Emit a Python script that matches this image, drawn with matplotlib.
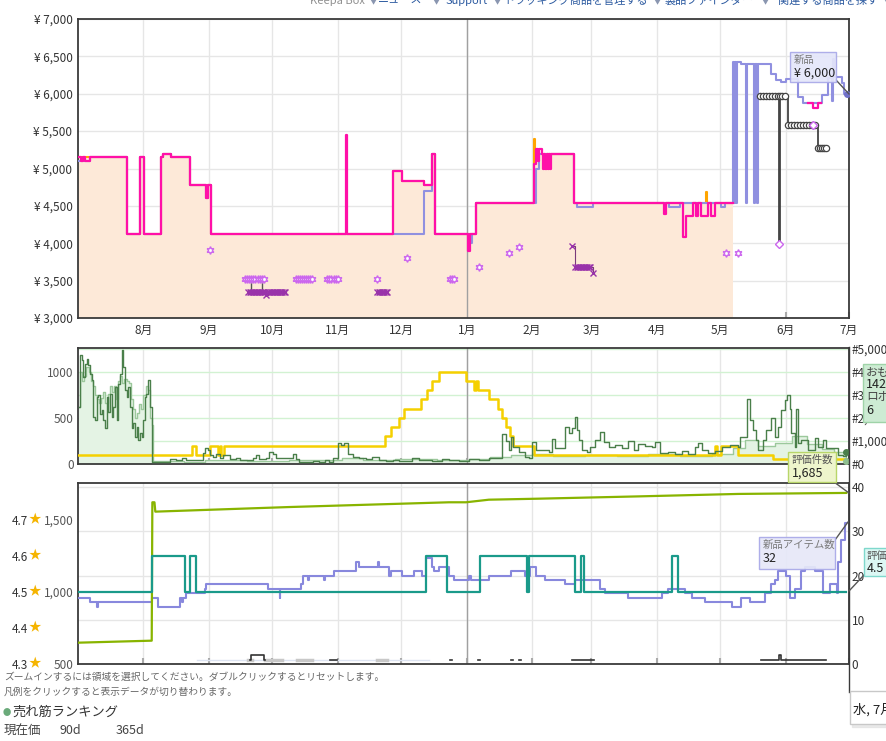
import numpy as np
import matplotlib.pyplot as plt
from matplotlib.patches import Rectangle
from matplotlib.lines import Line2D
from matplotlib.transforms import blended_transform_factory

plt.rcParams['font.family'] = ['Noto Sans CJK JP', 'DejaVu Sans']

nan = np.nan
W, H = 887, 741

# x axis: days since 1 July
month_days = [31, 62, 92, 123, 153, 184, 215, 243, 274, 304, 335, 365]
month_labels = ['8月', '9月', '10月', '11月', '12月', '1月', '2月', '3月', '4月', '5月', '6月', '7月']
new_year = 184

# ---------------- price panel ----------------
price_ticks = [3000, 3500, 4000, 4500, 5000, 5500, 6000, 6500, 7000]

amazon_days = [0, 23.0, 29.3, 31.2, 39.5, 40.3, 44.2, 53.2, 63.1, 148.9, 153.3, 163.8, 167.5, 169.0,
               188.5, 215.8, 216.5, 234.7, 297.2, 297.8, 310.2]
amazon_vals = [5150, 4130, 5150, 4130, 5150, 5200, 5150, 4780, 4130, 4970, 4830, 4780, 5200, 4130,
               4540, 5390, 5200, 4540, 4680, 4540, 4540]

buybox_days = [0, 1.5, 2.5, 3.5, 5.7, 23.0, 29.3, 31.2, 39.5, 40.3, 44.2, 53.2, 60.4, 61.5, 63.1,
               127.1, 127.5, 148.9, 153.3, 163.8, 167.5, 169.0, 184.7, 185.5, 188.5, 215.8, 216.8,
               217.6, 218.3, 219.5, 220.3, 220.8, 221.3, 221.8, 222.3, 222.9, 223.4, 224.0, 224.4,
               234.7, 277.6, 278.2, 286.6, 287.7, 291.3, 292.8, 293.4, 295.1, 298.2, 299.8, 301.4,
               310.2, 345.6, 348.0, 350.3, 351.9]
buybox_vals = [5150, 5100, 5150, 5100, 5150, 4130, 5150, 4130, 5150, 5200, 5150, 4780, 4600, 4780, 4130,
               5450, 4130, 4970, 4830, 4780, 5200, 4130, 3900, 4130, 4540, 5060, 5260,
               5100, 5260, 5200, 5000, 5200, 5000, 5200, 5000, 5200, 5000, 5200, 5190,
               4540, 4390, 4540, 4090, 4360, 4540, 4360, 4540, 4360, 4540, 4360, 4540,
               nan, 5870, 5805, 5870, nan]

new_days = [0, 5.7, 23.0, 29.3, 31.2, 39.5, 40.3, 44.2, 53.2, 60.4, 61.5, 63.1, 163.8, 167.5, 169.0,
            185.0, 186.5, 188.5, 216.6, 218.1, 224.4, 234.7, 236.0, 243.6, 280.0, 285.0, 304.5, 306.4,
            310.2, 310.7, 311.2, 311.7, 312.2, 313.8, 316.3, 316.6, 320.1, 320.5, 321.5, 321.8,
            328.3, 330.5, 333.0, 335.0, 340.9, 343.3, 352.0, 355.0, 356.8, 357.4, 358.0, 359.8,
            361.5, 362.8, 364.0]
new_vals = [5100, 5150, 4130, 5150, 4130, 5150, 5200, 5150, 4780, 4600, 4780, 4130, 4700, 5200, 4130,
            4000, 4130, 4540, 5000, 5200, 5190, 4540, 4490, 4540, 4480, 4540, 4490, 4540,
            6430, 4540, 6430, 4540, 6430, 6400, 4540, 6400, 4540, 6400, 4540, 6400,
            6270, 6180, 6160, 6200, 5960, 5870, 5980, 6210, 5900, 6470, 6230, 6230,
            6140, 6000, 6000]

used_days = [322.8, 324.2, 325.6, 327.0, 328.4, 329.8, 331.2, 331.9, 332.1, 333.4, 334.8, 336.2, 337.6,
             339.0, 340.4, 341.8, 343.2, 344.6, 346.0, 347.4, 348.8, 350.3, 351.2, 352.1, 353.0, 354.1]
used_vals = [5975, 5975, 5975, 5975, 5975, 5975, 5975, 3990, 5975, 5975, 5975, 5580, 5580,
             5580, 5580, 5580, 5580, 5580, 5580, 5580, 5580, 5280, 5280, 5280, 5280, 5280]

star_days = [62.7, 79, 80, 81, 82, 83, 84, 85, 86, 87, 88, 103, 104, 105, 106, 107, 108, 109, 110, 111,
             118, 119, 120, 121, 122, 123, 141.6, 155.8, 176.1, 177.2, 178.0, 189.8, 204.0, 208.7,
             306.9, 312.5]
star_vals = [3910, 3520, 3520, 3520, 3520, 3520, 3520, 3520, 3520, 3520, 3520, 3520, 3520, 3520, 3520,
             3520, 3520, 3520, 3520, 3520, 3520, 3520, 3520, 3520, 3520, 3520, 3520, 3807, 3520, 3520,
             3520, 3680, 3866, 3954, 3866, 3866]

xmark_days = [80.7, 81.4, 82.1, 82.8, 83.5, 84.2, 84.9, 85.6, 86.3, 87.0, 87.7, 88.4, 89.1, 89.8, 90.5,
              91.2, 91.9, 92.6, 93.3, 94.0, 94.7, 95.4, 96.1, 96.8, 97.5, 98.2, 98.3,
              141.6, 142.3, 143.0, 143.7, 144.4, 145.1, 145.8, 146.4, 146.5,
              233.9, 235.5, 236.2, 236.9, 237.6, 238.3, 239.0, 239.7, 240.4, 241.1, 241.8, 242.5,
              243.6, 244.1]
xmark_vals = [3350, 3350, 3350, 3350, 3350, 3350, 3350, 3350, 3350, 3350, 3350, 3350, 3310, 3350, 3350,
              3350, 3350, 3350, 3350, 3350, 3350, 3350, 3350, 3350, 3350, 3350, nan,
              3350, 3350, 3350, 3350, 3350, 3350, 3350, 3350, nan,
              3963, 3686, 3686, 3686, 3686, 3686, 3686, 3686, 3686, 3686, 3686, 3686,
              3598, nan]

link_days = [82.0, 82.0, nan, 86.9, 86.9]
link_vals = [3520, 3350, nan, 3520, 3350]

collect_days = [348.0]
collect_vals = [5580]

# ---------------- rank panel ----------------
rank_days = [0.3, 0.9, 1.7, 2.5, 3.3, 4.1, 4.9, 5.7, 6.5, 7.2, 8.0, 8.8, 9.6, 10.4, 11.2, 12.0, 12.7,
             13.5, 14.3, 15.1, 15.9, 16.7, 17.5, 18.3, 19.0, 19.8, 20.6, 21.4, 22.2, 23.0, 23.7, 24.6,
             25.4, 26.1, 26.9, 27.7, 28.5, 29.3, 30.1, 30.8, 31.6, 32.4, 33.2, 34.0, 34.8, 35.1,
             35.6, 41.9, 43.4, 46.6, 49.0, 51.3, 54.4, 57.6, 59.2, 60.0, 61.5, 62.3, 63.9, 65.5, 67.1,
             68.6, 71.8, 74.9, 76.5, 79.6, 82.8, 84.4, 85.9, 89.1, 90.6, 92.2, 93.8, 96.9, 100.1, 101.7,
             103.3, 104.8, 108.0, 111.2, 114.3, 116.7, 119.0, 120.5, 122.9, 124.5, 126.1, 127.6, 130.0,
             133.1, 136.3, 139.4, 142.6, 145.7, 148.9, 152.0, 158.3, 161.5, 167.8, 172.5, 175.6,
             180.4, 185.1, 189.8, 194.5, 199.2, 200.8, 202.4, 204.0, 204.8, 205.9, 208.7, 211.8, 213.4,
             215.0, 216.6, 219.7, 222.9, 224.4, 226.0, 229.1, 230.7, 232.3, 233.9, 235.5, 236.2, 237.0,
             238.6, 240.9, 242.5, 244.9, 247.3, 248.8, 251.2, 254.3, 257.5, 260.6, 263.0, 265.3, 268.5,
             271.6, 273.2, 275.6, 279.5, 282.7, 285.8, 289.0, 292.1, 293.7, 295.2, 298.4, 301.6, 304.7,
             308.6, 312.6, 313.4, 314.9, 316.5, 318.1, 319.6, 321.2, 322.0, 324.4, 325.9, 328.3, 329.9,
             331.4, 333.0, 334.6, 335.7, 337.0, 337.7, 339.3, 340.1, 340.9, 342.4, 345.6, 348.8, 350.3,
             352.7, 354.3, 357.4, 359.8, 362.1, 363.7]
rank_vals = [620, 1177, 1123, 943, 1087, 1141, 1070, 979, 907, 511, 475, 727, 745, 547, 583, 475, 385,
             727, 565, 763, 511, 619, 835, 475, 871, 979, 1231, 1051, 799, 727, 835, 619,
             385, 439, 295, 403, 259, 331, 295, 475, 727, 763, 907, 619, 475, 25,
             25, 25, 50, 40, 60, 45, 40, 40, 120, 170, 150, 100, 80, 110, 70,
             100, 50, 60, 40, 40, 60, 100, 50, 60, 130, 110, 70, 60, 60, 110,
             50, 20, 20, 30, 20, 40, 25, 60, 230, 210, 230, 110, 80,
             60, 50, 80, 40, 30, 40, 30, 60, 40, 30, 50, 40,
             30, 50, 40, 60, 70, 330, 250, 150, 295, 180, 130, 80, 60,
             240, 150, 150, 130, 266, 170, 170, 400, 331, 385, 511, 367, 259,
             150, 130, 187, 259, 349, 241, 180, 205, 170, 250, 150, 220, 190,
             180, 241, 120, 130, 110, 140, 110, 187, 223, 150, 120, 140, 187,
             205, 187, 295, 295, 709, 475, 367, 259, 150, 259, 367, 493, 295,
             400, 583, 691, 745, 601, 331, 187, 601, 223, 259, 150, 277, 187,
             259, 170, 170, 100, 90, 133]

rank2_days = [0.3, 1, 2, 3, 4, 5, 6, 7, 8, 9, 10, 11, 12, 13, 14, 15, 16, 17, 18, 19, 20, 21, 22, 23, 24,
              25, 26, 27, 28, 29, 30, 31, 32, 33, 34, 35, 35.3, 50, 60, 80, 100, 120, 125, 135, 150, 170,
              185, 195, 205, 215, 225, 240, 255, 270, 285, 300, 310, 316, 322, 330, 338, 345, 352, 358,
              363.7]
rank2_vals = [620, 1000, 900, 950, 1050, 1000, 900, 850, 750, 700, 660, 720, 780, 660, 760, 850, 780,
              840, 700, 900, 950, 880, 920, 900, 880, 700, 600, 500, 550, 650, 600, 750, 850, 800, 500,
              420, 30, 25, 40, 35, 45, 40, 60, 45, 50, 40, 50, 80, 100, 110, 90, 100, 90, 110, 90, 110,
              170, 260, 200, 230, 300, 220, 160, 130, 36]

yellow_days = [0, 54.2, 56.0, 62.3, 66.2, 67.0, 67.8, 68.9, 145.4, 148.1, 152.0, 154.4, 162.3, 165.1,
               167.8, 170.9, 183.8, 187.7, 188.5, 189.5, 194.5, 198.9, 200.5, 202.4, 204.3, 205.9,
               215.8, 301.6, 302.3, 304.4, 312.6, 329.1, 363.7]
yellow_vals = [100, 200, 100, 200, 100, 200, 100, 200, 300, 400, 500, 600, 700, 800,
               900, 1000, 900, 800, 900, 800, 700, 600, 500, 400, 300, 200,
               100, 200, 100, 200, 100, 50, 50]

rank_left_ticks = [0, 500, 1000]
rank_right_ticks = [0, 1000, 2000, 3000, 4000, 5000]

# ---------------- reviews / offers panel ----------------
review_days = [0, 34.9, 35.2, 36.2, 36.6, 100, 175.6, 183.7, 194.5, 218, 265.4, 312.6, 363.7]
review_vals = [648, 662, 1623, 1623, 1558, 1590, 1623, 1623, 1641, 1648, 1664, 1681, 1688]

rating_days = [0, 34.9, 50.8, 52.9, 56.0, 164.9, 174.7, 190.1, 212.6, 213.4, 235.4, 238.2, 239.5,
               281.1, 284.0, 363.7]
rating_vals = [4.5, 4.6, 4.5, 4.6, 4.5, 4.6, 4.5, 4.6, 4.5, 4.6, 4.5, 4.6, 4.5, 4.6, 4.5, 4.5]

count_days = [0.3, 5.7, 9.0, 9.4, 34.8, 37.9, 48.2, 49.0, 49.7, 51.3, 60.0, 60.8, 89.9, 95.4, 95.8,
              105.6, 106.4, 108.7, 109.5, 116.6, 117.1, 121.3, 131.6, 133.1, 141.8, 142.3, 147.3,
              148.1, 153.6, 157.5, 159.1, 163.0, 164.6, 167.8, 168.6, 170.9, 175.6, 178.0, 185.1,
              185.9, 194.5, 204.8, 211.8, 214.2, 216.6, 221.3, 230.7, 235.5, 247.3, 249.6, 260.6,
              276.4, 279.5, 287.4, 290.5, 296.8, 309.4, 314.1, 318.1, 325.1, 328.3, 329.9, 331.4,
              335.4, 337.0, 339.3, 342.4, 344.0, 348.8, 352.7, 355.9, 359.1, 359.8, 361.4, 362.9, 363.7]
count_vals = [15, 14, 13, 14, 15, 13, 15, 14, 15, 16, 17, 18, 17, 15, 17,
              18, 20, 19, 20, 19, 20, 21, 23, 22, 23, 22, 20,
              21, 20, 20, 21, 20, 24, 22, 21, 22, 20, 19, 20,
              19, 20, 21, 20, 22, 20, 19, 18, 19, 17, 16, 15,
              16, 17, 16, 15, 14, 13, 15, 14, 16, 18, 19, 21,
              20, 15, 17, 21, 22, 21, 16, 18, 16, 23, 28, 32, 32]

used_cnt_days = [81.2, 81.7, 88.0, 88.3, 119.5, 122.8, 176.2, 177.0, 189.5, 190.3, 204.9, 205.7,
                 209.0, 209.8, 233.7, 244.1, 323.4, 332.0, 332.6, 354.1]
used_cnt_vals = [1, 2, 1, nan, 1, nan, 1, nan, 1, nan, 1, nan, 1, nan, 1, nan, 1, 2, 1, nan]
grey_cnt_days = [80.3, 82.2, 88.3, 96.8, 103.9, 111.0, 141.6, 146.4]
grey_cnt_vals = [1, nan, 1, nan, 1, nan, 1, nan]
faint_cnt_days = [56.2, 166.2]
faint_cnt_vals = [1, 1]

count_ticks = [0, 10, 20, 30, 40]
review_ticks = [500, 1000, 1500]
rating_ticks = [4.3, 4.4, 4.5, 4.6, 4.7]

GRID = '#e6e6e6'
SPINE = '#3a3a3a'
LABEL = '#333333'


def rect(x0, y0, x1, y1):
    return [x0 / W, 1 - y1 / H, (x1 - x0) / W, (y1 - y0) / H]


def base_style(ax):
    ax.set_xlim(0, 365)
    ax.set_xticks(month_days)
    ax.tick_params(axis='x', direction='in', length=4, width=1.5, color='#aaaaaa', labelbottom=False)
    ax.grid(axis='x', color=GRID, lw=1)
    ax.set_axisbelow(True)
    for s in ax.spines.values():
        s.set_color(SPINE)
        s.set_linewidth(1.3)
    ax.axvline(new_year, color='#a0a0a0', lw=1, zorder=1.5)


def hide_spines(ax):
    for s in ax.spines.values():
        s.set_visible(False)


fig = plt.figure(figsize=(W / 100, H / 100), dpi=100)

# ---- price panel
ax_p = fig.add_axes(rect(78, 19, 849, 318))
base_style(ax_p)
ax_p.set_ylim(3000, 7000)
ax_p.set_yticks(price_ticks)
ax_p.set_yticklabels([f'¥ {v:,}' for v in price_ticks])
ax_p.grid(axis='y', color=GRID, lw=1)
ax_p.set_xticklabels(month_labels)
ax_p.tick_params(axis='x', labelbottom=True, labelsize=8.5, labelcolor=LABEL, pad=4)
ax_p.tick_params(axis='y', length=0, pad=4, labelsize=8.5, labelcolor=LABEL)

ax_p.fill_between(amazon_days, 3000, amazon_vals, step='post', color='#fde9d8', lw=0, zorder=1)
ax_p.plot(amazon_days, amazon_vals, drawstyle='steps-post', color='#ffa500', lw=1.5, zorder=2)
ax_p.plot(new_days, new_vals, drawstyle='steps-post', color='#9090e0', lw=1.5, zorder=3)
ax_p.plot(buybox_days, buybox_vals, drawstyle='steps-post', color='#ff10a8', lw=1.6, zorder=4)
ax_p.plot(link_days, link_vals, color='#555555', lw=1, zorder=5)
ax_p.plot(xmark_days, xmark_vals, drawstyle='steps-post', color='#7a3a7a', lw=0.8, zorder=5)
ax_p.plot(xmark_days, xmark_vals, ls='none', marker='x', ms=4, mew=1.0, color='#9933aa', zorder=6)
ax_p.plot(star_days, star_vals, ls='none', marker=(6, 1, 0), ms=5.5, mfc='white', mec='#cc66ee',
          mew=1, zorder=6)
ax_p.plot(used_days, used_vals, drawstyle='steps-post', color='#444444', lw=1.3, zorder=6)
keep = [i for i, v in enumerate(used_vals) if v != min(used_vals)]
ax_p.plot(used_days, used_vals, ls='none', marker='o', ms=4.5, mfc='white', mec='#444444', mew=0.9,
          markevery=keep, zorder=7)
low = int(np.argmin(used_vals))
ax_p.plot([used_days[low]], [used_vals[low]], ls='none', marker='D', ms=4, mfc='white',
          mec='#cc66ee', mew=1, zorder=7)
ax_p.plot(collect_days, collect_vals, ls='none', marker='D', ms=4, mfc='white', mec='#cc66ee',
          mew=1, zorder=8)
ax_p.plot(new_days[-1], new_vals[-1], 'o', color='#7070c8', ms=4, zorder=8)

# ---- rank panel
ax_m = fig.add_axes(rect(78, 347.5, 849, 464))
base_style(ax_m)
ax_mr = ax_m.twinx()
hide_spines(ax_mr)
ax_m.set_ylim(0, 1262)
ax_m.set_yticks(rank_left_ticks)
ax_m.set_yticks([250, 750, 1250], minor=True)
ax_m.grid(axis='y', which='both', color='#d2f2d2', lw=1)
ax_m.tick_params(axis='y', which='both', length=0, pad=3, labelsize=8.5, labelcolor='#555555')
ax_mr.set_ylim(0, 5048)
ax_mr.set_yticks(rank_right_ticks)
ax_mr.set_yticklabels([f'#{v:,}' for v in rank_right_ticks])
ax_mr.tick_params(axis='y', length=0, pad=2, labelsize=8.5, labelcolor=LABEL)

ax_m.fill_between(rank2_days, 0, rank2_vals, step='post', color='#e4f3e4', lw=0, zorder=1)
ax_m.plot(rank2_days, rank2_vals, drawstyle='steps-post', color='#9cc89c', lw=1, zorder=2)
ax_m.plot(yellow_days, yellow_vals, drawstyle='steps-post', color='#f5d000', lw=1.8, zorder=3)
ax_m.plot(rank_days, rank_vals, drawstyle='steps-post', color='#4a7f4a', lw=1, zorder=4)
ax_m.plot(rank_days[-1], rank_vals[-1], 'o', color='#4a7f4a', ms=4, zorder=5, clip_on=False)
ax_m.plot(rank2_days[-1], rank2_vals[-1], 'o', color='#8fbf8f', ms=4, zorder=5, clip_on=False)

# ---- reviews / offers panel
ax_b = fig.add_axes(rect(78, 482.7, 849, 664))
base_style(ax_b)
ax_bl = ax_b.twinx()
ax_rt = ax_b.twinx()
hide_spines(ax_bl)
hide_spines(ax_rt)
ax_b.yaxis.tick_right()
ax_bl.yaxis.tick_left()
ax_rt.yaxis.tick_left()

ax_b.set_ylim(0, 41.04)
ax_b.set_yticks(count_ticks)
ax_b.grid(axis='y', color=GRID, lw=1)
ax_b.tick_params(axis='y', length=0, pad=2, labelsize=8.5, labelcolor=LABEL)

ax_bl.set_ylim(500, 1759)
ax_bl.set_yticks(review_ticks)
ax_bl.set_yticklabels([f'{v:,}' for v in review_ticks])
ax_bl.tick_params(axis='y', length=0, pad=3, labelsize=8.5, labelcolor='#555555')

ax_rt.set_ylim(4.3, 4.3 + (1759 - 500) / 2500)
ax_rt.set_yticks(rating_ticks)
ax_rt.set_yticklabels([f'{v:.1f}' for v in rating_ticks])
ax_rt.tick_params(axis='y', length=0, pad=36, labelsize=8.5, labelcolor=LABEL)
star_tr = blended_transform_factory(fig.transFigure, ax_rt.transData)
for r in rating_ticks:
    fig.text(35 / W, r, '★', transform=star_tr, color='#f5b400', ha='center', va='center', fontsize=9)

ax_b.plot(faint_cnt_days, faint_cnt_vals, color='#dde4f2', lw=1, zorder=2)
ax_b.plot(grey_cnt_days, grey_cnt_vals, drawstyle='steps-post', color='#c8c8c8', lw=2.5, zorder=2)
ax_b.plot(used_cnt_days, used_cnt_vals, drawstyle='steps-post', color='#333333', lw=1.2, zorder=3)
ax_b.plot(count_days, count_vals, drawstyle='steps-post', color='#8888dd', lw=1.5, zorder=4)
ax_bl.plot(review_days, review_vals, color='#88b400', lw=1.6, zorder=3)
ax_rt.plot(rating_days, rating_vals, drawstyle='steps-post', color='#1a9a8a', lw=1.6, zorder=3)


# ---- tooltips and page text
def box(x0, y0, x1, y1, face, edge, alpha=1.0):
    fig.add_artist(Rectangle((x0 / W, 1 - y1 / H), (x1 - x0) / W, (y1 - y0) / H,
                             transform=fig.transFigure, facecolor=face, edgecolor=edge,
                             lw=1, alpha=alpha, zorder=10))


def line(x0, y0, x1, y1, color='#555555'):
    fig.add_artist(Line2D([x0 / W, x1 / W], [1 - y0 / H, 1 - y1 / H], transform=fig.transFigure,
                          color=color, lw=1, zorder=9))


def label(x, y, s, size=9, color='#222222', **kw):
    fig.text(x / W, 1 - y / H, s, fontsize=size, color=color, va='center', zorder=11, **kw)


# right axis line running below the panels
line(849, 347, 849, 692, color=SPINE)

line(836, 80, 849, 94)
box(790, 52, 836, 82, '#e4e6fa', '#a8a8e8', 0.92)
label(794, 60, '新品', 7.5, '#777777')
label(794, 73, '¥ 6,000', 9)

box(863, 364, 900, 422, '#cdebd3', '#9fd3a8')
label(866, 372, 'おも', 8.5, '#444444')
label(866, 384, '142', 9)
label(866, 397, 'ロボ', 8.5, '#444444')
label(866, 410, '6', 9)

line(834, 482, 849, 493)
box(788, 452, 836, 482, '#eef5cc', '#b8d66a')
label(792, 460, '評価件数', 7.5, '#555555')
label(792, 473, '1,685', 9)

line(835, 540, 848, 522)
box(759, 537, 835, 569, '#e6e8f8', '#a8a8e8', 0.92)
label(763, 545, '新品アイテム数', 7.5, '#777777')
label(763, 558, '32', 9)

line(864, 575, 849, 591)
box(864, 548, 900, 576, '#dcf8f4', '#7fd8cc')
label(867, 556, '評価', 7.5, '#555555')
label(867, 569, '4.5', 9)

box(852, 694, 900, 727, '#dddddd', '#dddddd', 0.6)
box(850, 691, 900, 724, 'white', '#c8c8c8')
label(853, 710, '水, 7月', 9.5)

nav = [('Keepa Box', 310, '#909090'), ('▼', 368, '#8a96b0'), ('ニュース', 378, '#2c5aa0'),
       ('▼', 431, '#8a96b0'), ('Support', 446, '#2c5aa0'), ('▼', 492, '#8a96b0'),
       ('トラッキング商品を管理する', 503, '#2c5aa0'), ('▼', 652, '#8a96b0'),
       ('製品ファインダー', 665, '#2c5aa0'), ('▼', 760, '#8a96b0'),
       ('関連する商品を探す', 778, '#2c5aa0'), ('▼', 882, '#8a96b0')]
for s, x, c in nav:
    fig.text(x / W, 1 - 4 / H, s, fontsize=8, color=c, va='baseline')

label(4, 677, 'ズームインするには領域を選択してください。ダブルクリックするとリセットします。', 7, '#666666')
label(4, 692, '凡例をクリックすると表示データが切り替わります。', 7, '#666666')
label(3, 712, '●', 6, '#6aaa7a')
label(12, 712, '売れ筋ランキング', 9.5, '#333333')
label(4, 731, '現在価', 9, '#444444')
label(60, 731, '90d', 9, '#444444')
label(116, 731, '365d', 9, '#444444')

fig.savefig('out.png', dpi=100)
